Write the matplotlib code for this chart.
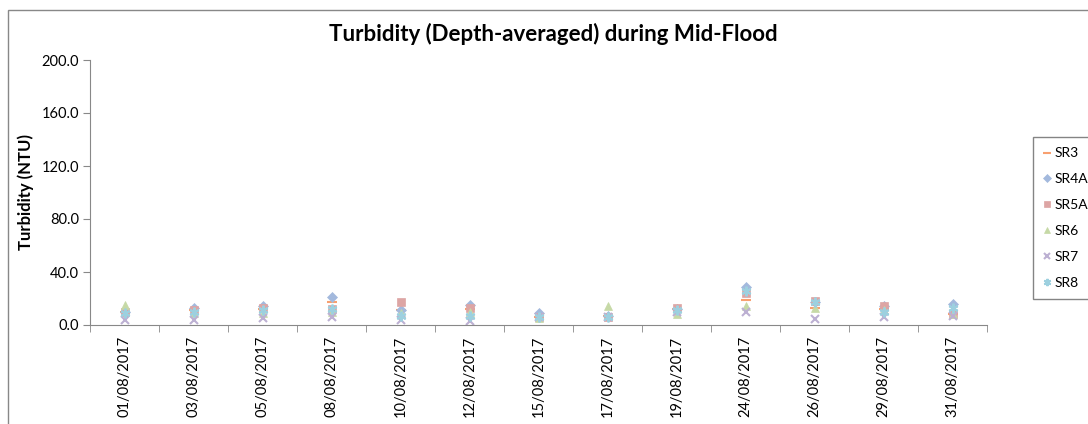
import matplotlib.pyplot as plt
import matplotlib.patches as patches
import numpy as np

plt.rcParams['font.family'] = ['Lato', 'DejaVu Sans']

dates = ['01/08/2017', '03/08/2017', '05/08/2017', '08/08/2017', '10/08/2017',
         '12/08/2017', '15/08/2017', '17/08/2017', '19/08/2017', '24/08/2017',
         '26/08/2017', '29/08/2017', '31/08/2017']

sr3 = [10, 11, 12, 17, 11, 12, 6, 7, 12, 19, 13, 12, 8]
sr4a = [10, 13, 14, 21, 11, 15, 9, 7, 12, 29, 17, 14, 16]
sr5a = [10, 11, 13, 12, 17, 13, 6, 6, 13, 24, 18, 14, 8]
sr6 = [15, 9, 9, 10, 9, 10, 5, 14, 8, 14, 13, 11, 8]
sr7 = [4, 4, 5, 6, 4, 3, 6, 6, 10, 10, 4.5, 6, 7]
sr8 = [9, 10, 11, 12, 7, 7, 6, 6, 11, 26, 17, 10, 13]

series = [
    ('SR3', sr3, '#F8A070', '_', 7),
    ('SR4A', sr4a, '#A3B9DD', 'D', 5),
    ('SR5A', sr5a, '#DDA5A4', 's', 6),
    ('SR6', sr6, '#C6D9A6', '^', 6),
    ('SR7', sr7, '#BCB0D2', 'x', 6),
    ('SR8', sr8, '#9DD0DF', (6, 2, 0), 7),
]

fig = plt.figure(figsize=(10.88, 4.24), dpi=100)
fig.patches.append(patches.Rectangle((8 / 1088, -0.1), 1.2, 1 - 10 / 424 + 0.1,
                                     transform=fig.transFigure, fill=False,
                                     edgecolor='#888888', linewidth=1))
ax = fig.add_axes([90 / 1088, 99 / 424, 897 / 1088, 265 / 424])

x = np.arange(len(dates))
for name, vals, col, mk, ms in series:
    ax.plot(x, vals, linestyle='none', marker=mk, color=col, markersize=ms,
            markeredgewidth=1.5 if mk in ('_', 'x', (6, 2, 0)) else 0.5,
            markeredgecolor=col, label=name)

ax.set_xlim(-0.5, len(dates) - 0.5)
ax.set_ylim(0, 200)
ax.set_yticks(np.arange(0, 201, 40))
ax.set_yticklabels(['%.1f' % v for v in np.arange(0, 201, 40)], fontsize=10.5)
ax.set_xticks(x)
ax.set_xticklabels(dates, rotation=90, fontsize=10.5)
ax.set_xticks(np.arange(-0.5, len(dates), 1), minor=True)
ax.tick_params(axis='x', which='major', length=0, pad=8)
ax.tick_params(axis='x', which='minor', length=5, color='#888888')
ax.tick_params(axis='y', length=5, color='#888888', pad=3)

for s in ['top', 'right']:
    ax.spines[s].set_visible(False)
for s in ['left', 'bottom']:
    ax.spines[s].set_color('#888888')

ax.set_ylabel('Turbidity (NTU)', fontsize=12, fontweight='bold', labelpad=5)
ax.set_title('Turbidity (Depth-averaged) during Mid-Flood', fontsize=16,
             fontweight='bold', pad=14, x=(553 - 90) / 897)

leg = ax.legend(loc='upper left', bbox_to_anchor=(1033 / 1088, 287 / 424),
                bbox_transform=fig.transFigure, frameon=True, fancybox=False,
                fontsize=10, handlelength=0.5, handletextpad=0.3,
                labelspacing=1.0, borderpad=0.75, markerscale=0.75,
                borderaxespad=0)
leg.get_frame().set_edgecolor('#666666')

fig.savefig('out.png', dpi=100)
